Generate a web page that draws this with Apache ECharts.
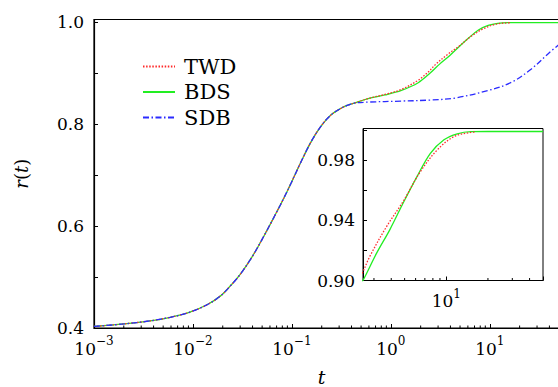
<!DOCTYPE html>
<html><head><meta charset="utf-8">
<script src="https://cdn.jsdelivr.net/npm/echarts@6/dist/echarts.min.js"></script>
<style>html,body{margin:0;padding:0;background:#fff}#c{width:558px;height:387px}</style>
</head><body><div id="c"></div>
<script>
// shared early part (all three curves coincide)
const earlyT = [0.001, 0.002, 0.0037, 0.0059, 0.0093, 0.014, 0.019, 0.024, 0.030, 0.040, 0.052, 0.067, 0.082, 0.098, 0.123, 0.156, 0.197, 0.249, 0.314, 0.367, 0.427];
const earlyR = [0.403, 0.408, 0.414, 0.421, 0.431, 0.446, 0.463, 0.483, 0.505, 0.541, 0.580, 0.620, 0.653, 0.684, 0.725, 0.765, 0.796, 0.818, 0.831, 0.837, 0.841];
// TWD (red dotted) after split
const twdT = [0.589, 0.87, 1.28, 1.89, 2.40, 2.80, 3.71, 4.91, 6.46, 8.59, 11.4, 15.0, 16.2];
const twdR = [0.850, 0.858, 0.868, 0.886, 0.9024, 0.916, 0.936, 0.953, 0.972, 0.9867, 0.9957, 0.9984, 0.9986];
// BDS (green solid) after split
const bdsT = [0.589, 0.87, 1.28, 1.89, 2.48, 3.13, 3.92, 4.91, 6.14, 7.67, 9.62, 12.0, 15.1, 20, 30, 50];
const bdsR = [0.850, 0.857, 0.866, 0.881, 0.8995, 0.918, 0.934, 0.952, 0.969, 0.9845, 0.9935, 0.9975, 0.9989, 0.999, 0.999, 0.999];
// SDB (blue dash-dot) after split
const sdbT = [0.589, 1.28, 2.48, 4.45, 9.7, 16.6, 26.3, 38.9, 50];
const sdbR = [0.843, 0.845, 0.847, 0.851, 0.866, 0.882, 0.908, 0.938, 0.956];
// axis settings
const mainYTicks = [0.4, 0.6, 0.8, 1.0];
const insetYTicks = [0.90, 0.94, 0.98];
const legendNames = ['TWD', 'BDS', 'SDB'];

const FONT = "'DejaVu Serif', serif";
const BLACK = '#000';
const zip = (a, b) => a.map((v, i) => [v, b[i]]);
const twd = zip(earlyT.concat(twdT), earlyR.concat(twdR));
const bds = zip(earlyT.concat(bdsT), earlyR.concat(bdsR));
const sdb = zip(earlyT.concat(sdbT), earlyR.concat(sdbR));

function supLabel(v) {
  const e = Math.log10(v), r = Math.round(e);
  if (Math.abs(e - r) > 1e-6) return '';
  return '{b|10}{s|' + (r < 0 ? '\u2212' + (-r) : r) + '}';
}
const rich = {
  b: { fontFamily: FONT, fontSize: 17, color: BLACK, padding: [5, 0, 0, 0], verticalAlign: 'bottom' },
  s: { fontFamily: FONT, fontSize: 12, color: BLACK, verticalAlign: 'top' }
};
function minorList(lo, hi) {
  const out = [];
  for (let k = -3; k <= 2; k++) for (let m = 2; m <= 9; m++) {
    const t = m * Math.pow(10, k);
    if (t > lo * 1.0001 && t < hi * 0.9999) out.push(t);
  }
  return out;
}
const mainMinor = minorList(0.001, 50);
const insetMinor = minorList(2.5, 50);
function tickRender(len) {
  return function (params, api) {
    const p = api.coord([api.value(0), api.value(1)]);
    return { type: 'line', shape: { x1: p[0], y1: p[1], x2: p[0], y2: p[1] - len }, style: { stroke: BLACK, lineWidth: 1 } };
  };
}
const lineW = 1.3;
const styles = {
  TWD: { color: '#ff2a2a', width: lineW, type: [1.5, 1.6] },
  BDS: { color: '#22ee22', width: lineW, type: 'solid' },
  SDB: { color: '#2b2bff', width: lineW, type: [6, 2.5, 1.5, 2.5] }
};
function mk(name, data, xi, z) {
  return { name, type: 'line', xAxisIndex: xi, yAxisIndex: xi, data, symbol: 'none', showSymbol: false,
    smooth: 0.35, lineStyle: styles[name], itemStyle: { color: styles[name].color }, z, silent: true };
}
const chart = echarts.init(document.getElementById('c'), null, { renderer: 'svg' });
chart.setOption({
  animation: false,
  backgroundColor: '#fff',
  legend: {
    data: legendNames, orient: 'vertical', left: 137, top: 51, itemWidth: 32, itemHeight: 12, itemGap: 4.5,
    itemStyle: { opacity: 0 },
    textStyle: { fontFamily: FONT, fontSize: 21, lineHeight: 20, color: BLACK, padding: [0, 0, 0, 4] }
  },
  grid: [
    { left: 94, top: 19.5, right: -1, bottom: 59, outerBoundsMode: 'none', containLabel: false, show: true, borderColor: BLACK, borderWidth: 1.2, backgroundColor: 'transparent' },
    { left: 363, top: 128.5, width: 180, height: 152, outerBoundsMode: 'none', containLabel: false, show: true, borderColor: BLACK, borderWidth: 1, backgroundColor: '#fff', z: 5 }
  ],
  xAxis: [
    { type: 'log', logBase: 10, gridIndex: 0, min: 0.001, max: 50,
      axisLine: { lineStyle: { color: BLACK, width: 1.2 } },
      axisTick: { inside: true, length: 4, lineStyle: { color: BLACK } },
      axisLabel: { formatter: supLabel, rich, margin: 7, showMinLabel: true, showMaxLabel: true },
      splitLine: { show: false }, minorTick: { show: false },
      name: 't', nameLocation: 'middle', nameGap: 39,
      nameTextStyle: { fontFamily: FONT, fontStyle: 'italic', fontSize: 19, color: BLACK, padding: [0, 10, 0, 0] } },
    { type: 'log', logBase: 10, gridIndex: 1, min: 2.5, max: 50, z: 6,
      axisLine: { lineStyle: { color: BLACK, width: 1 } },
      axisTick: { inside: true, length: 4, lineStyle: { color: BLACK } },
      axisLabel: { formatter: supLabel, rich, margin: 7 },
      splitLine: { show: false } }
  ],
  yAxis: [
    { type: 'value', gridIndex: 0, min: 0.4, max: 1.005, interval: 0.1,
      axisLine: { lineStyle: { color: BLACK, width: 1.2 } },
      axisTick: { inside: true, length: 4, lineStyle: { color: BLACK } },
      axisLabel: { fontFamily: FONT, fontSize: 17, color: BLACK, margin: 10,
        formatter: v => mainYTicks.some(x => Math.abs(x - v) < 1e-6) ? v.toFixed(1) : '' },
      splitLine: { show: false },
      name: '{i|r}{n|(}{i|t}{n|)}', nameLocation: 'middle', nameGap: 64,
      nameTextStyle: { fontFamily: FONT, fontSize: 18, color: BLACK,
        rich: { i: { fontFamily: FONT, fontStyle: 'italic', fontSize: 18, color: BLACK }, n: { fontFamily: FONT, fontSize: 18, color: BLACK } } } },
    { type: 'value', gridIndex: 1, min: 0.9, max: 1.001, interval: 0.02, z: 6,
      axisLine: { lineStyle: { color: BLACK, width: 1 } },
      axisTick: { inside: true, length: 4, lineStyle: { color: BLACK } },
      axisLabel: { fontFamily: FONT, fontSize: 17, color: BLACK, margin: 8,
        formatter: v => insetYTicks.some(x => Math.abs(x - v) < 1e-6) ? v.toFixed(2) : '' },
      splitLine: { show: false } }
  ],
  series: [
    mk('BDS', bds, 0, 3), mk('TWD', twd, 0, 4), mk('SDB', sdb, 0, 5),
    mk('BDS', bds, 1, 7), mk('TWD', twd, 1, 8),
    { type: 'custom', xAxisIndex: 0, yAxisIndex: 0, data: mainMinor.map(t => [t, 0.4]), renderItem: tickRender(2.5), clip: false, silent: true, z: 6 },
    { type: 'custom', xAxisIndex: 1, yAxisIndex: 1, data: insetMinor.map(t => [t, 0.9]), renderItem: tickRender(2.5), clip: false, silent: true, z: 9 }
  ]
});
</script></body></html>
